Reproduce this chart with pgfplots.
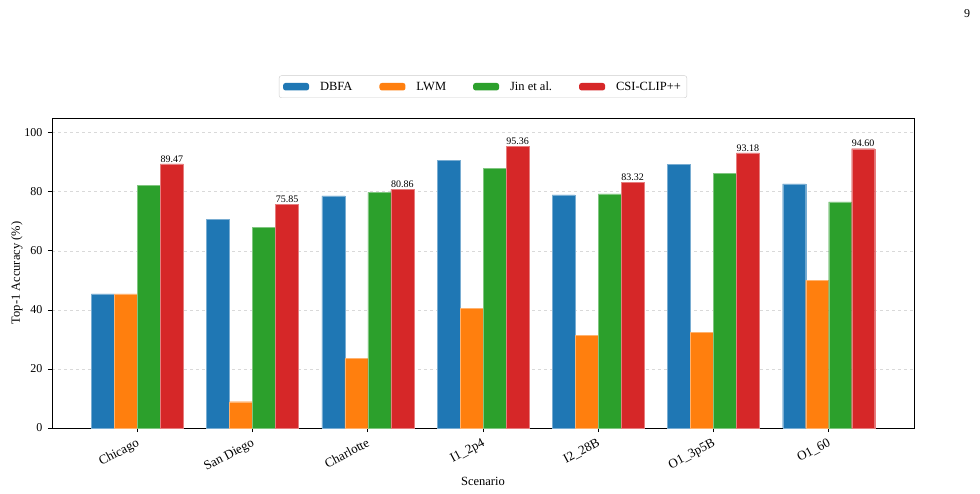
\documentclass[border=0pt]{standalone}
\usepackage{fontspec}
\setmainfont{Liberation Serif}
\usepackage{pgfplots}
\pgfplotsset{compat=1.18}
\definecolor{c1}{HTML}{1F77B4}
\definecolor{c2}{HTML}{FF7F0E}
\definecolor{c3}{HTML}{2CA02C}
\definecolor{c4}{HTML}{D62728}
\begin{document}
\begin{tikzpicture}
\path[use as bounding box] (0pt,0pt) rectangle (980pt,493pt);
\node[font=\fontsize{12}{14}\selectfont] at (967pt,479pt) {9};
\begin{axis}[
  at={(52pt,65pt)}, anchor=south west,
  scale only axis, width=862pt, height=310pt,
  ybar=0pt, bar width=23pt,
  xmin=-0.74, xmax=6.74, ymin=0, ymax=105,
  xtick={0,1,2,3,4,5,6},
  xticklabels={Chicago,San Diego,Charlotte,I1\_2p4,I2\_28B,O1\_3p5B,O1\_60},
  x tick label style={rotate=28, anchor=north east, font=\fontsize{13}{15}\selectfont, inner sep=1pt, yshift=-3pt, xshift=-3pt},
  ytick={0,20,40,60,80,100},
  y tick label style={font=\fontsize{12}{14}\selectfont, xshift=-2pt},
  /pgf/number format/assume math mode=true,
  tick align=outside, major tick length=4pt,
  xtick pos=bottom, ytick pos=left,
  tick style={black, line width=0.8pt},
  axis line style={black, line width=0.8pt},
  ymajorgrids, major grid style={dashed, black!15, line width=0.7pt},
  xlabel={Scenario}, ylabel={Top-1 Accuracy (\%)},
  label style={font=\fontsize{12.5}{14}\selectfont},
  xlabel style={at={(axis description cs:0.5,0)}, anchor=center, yshift=-53pt},
  ylabel style={at={(axis description cs:0,0.5)}, anchor=center, yshift=35pt},
  legend style={at={(0.5,1)}, anchor=south, yshift=20pt, legend columns=4,
    draw=black!20, rounded corners=2.5pt, font=\fontsize{12.5}{14}\selectfont,
    inner xsep=4pt, inner ysep=4pt,
    /tikz/every even column/.append style={column sep=25pt}},
  legend image code/.code={\fill[#1, draw=none] (0pt,-3.75pt) rectangle (26pt,3.75pt); \path[draw=none, fill=none] (0pt,0pt) -- (35pt,0pt);},
]
\addplot[fill=c1, draw=c1!60!white, line width=0.4pt] coordinates {(0,45.4) (1,70.7) (2,78.6) (3,90.6) (4,79.0) (5,89.4) (6,82.7)};
\addplot[fill=c2, draw=c2!60!white, line width=0.4pt] coordinates {(0,45.4) (1,8.9) (2,23.5) (3,40.6) (4,31.5) (5,32.4) (6,50.0)};
\addplot[fill=c3, draw=c3!60!white, line width=0.4pt] coordinates {(0,82.3) (1,68.0) (2,79.8) (3,88.0) (4,79.3) (5,86.3) (6,76.6)};
\addplot[fill=c4, draw=c4!60!white, line width=0.4pt,
  nodes near coords={\pgfmathprintnumber[fixed,fixed zerofill,precision=2,assume math mode=true]{\pgfplotspointmeta}},
  nodes near coords style={font=\fontsize{10}{12}\selectfont, inner sep=1.5pt}]
  coordinates {(0,89.47) (1,75.85) (2,80.86) (3,95.36) (4,83.32) (5,93.18) (6,94.60)};
\legend{DBFA,LWM,Jin et al.,CSI-CLIP++}
\end{axis}
\end{tikzpicture}
\end{document}
